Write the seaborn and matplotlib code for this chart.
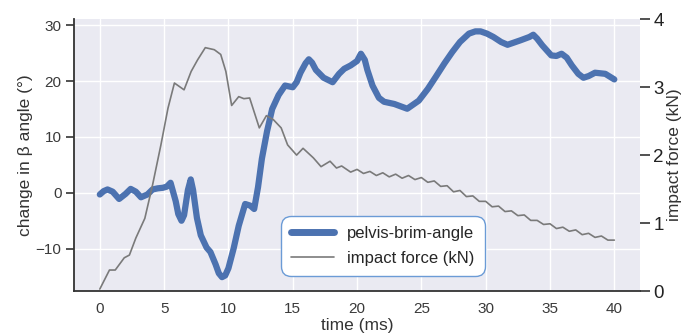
import matplotlib
matplotlib.use("Agg")
import matplotlib.pyplot as plt
import seaborn as sns
import pandas as pd

# pelvis-brim angle change (degrees) over time (ms)
angle_time = [0, 0.3, 0.6, 1.0, 1.5, 2.0, 2.4, 2.8, 3.2, 3.7, 4.1, 4.5, 4.9, 5.2, 5.5,
              5.9, 6.1, 6.35, 6.55, 6.85, 7.07, 7.25, 7.55, 7.85, 8.3, 8.6, 9.0,
              9.25, 9.5, 9.75, 10.0, 10.4, 10.8, 11.3, 11.7, 12.0, 12.3, 12.6, 13.0,
              13.4, 13.9, 14.4, 15.0, 15.3, 15.6, 16.0, 16.25, 16.5, 16.8, 17.4, 18.1,
              18.6, 19.0, 19.5, 20.0, 20.3, 20.6, 20.8, 21.2, 21.7, 22.1, 22.9, 23.9,
              24.8, 25.5, 26.1, 26.8, 27.4, 28.0, 28.7, 29.2, 29.6, 30.1, 30.6, 31.2,
              31.7, 32.7, 33.4, 33.7, 34.0, 34.4, 35.1, 35.5, 35.9, 36.3, 36.7, 37.2,
              37.6, 38.0, 38.5, 39.3, 40.0]
angle_deg = [-0.3, 0.3, 0.6, 0.2, -1.1, -0.2, 0.7, 0.2, -0.8, -0.3, 0.6, 0.8, 0.9,
             1.1, 1.8, -1.5, -3.8, -5.0, -4.0, 0.5, 2.4, 0.5, -4.5, -7.6, -9.8, -10.6,
             -12.8, -14.4, -15.1, -14.8, -13.5, -10.0, -5.9, -2.0, -2.3, -2.9, 1.0,
             6.1, 11.0, 15.0, 17.5, 19.2, 18.9, 19.8, 21.5, 23.2, 23.9, 23.3, 22.0,
             20.6, 19.8, 21.3, 22.2, 22.8, 23.6, 24.9, 23.8, 22.0, 19.2, 17.0, 16.3,
             15.9, 15.05, 16.5, 18.6, 20.7, 23.2, 25.2, 27.0, 28.5, 28.9, 28.9, 28.5,
             27.9, 27.0, 26.5, 27.3, 27.9, 28.3, 27.6, 26.4, 24.6, 24.5, 24.9, 24.2,
             22.8, 21.3, 20.6, 20.9, 21.5, 21.3, 20.3]

# impact force (kN) over time (ms)
force_time = [0, 0.75, 1.2, 1.9, 2.3, 2.8, 3.5, 4.1, 4.75, 5.3, 5.8, 6.55, 7.1, 7.6,
              8.2, 8.9, 9.4, 9.8, 10.25, 10.8, 11.2, 11.65, 12.4, 12.95, 13.5, 14.1,
              14.6, 15.3, 15.8, 16.6, 17.2, 17.9, 18.4, 18.8, 19.5, 20.0, 20.5, 21.0,
              21.5, 22.0, 22.5, 23.0, 23.5, 24.0, 24.5, 25.0, 25.5, 26.0, 26.5, 27.0,
              27.5, 28.0, 28.5, 29.0, 29.5, 30.0, 30.5, 31.0, 31.5, 32.0, 32.5, 33.0,
              33.5, 34.0, 34.5, 35.0, 35.5, 36.0, 36.5, 37.0, 37.5, 38.0, 38.5, 39.0,
              39.5, 40.0]
force_kn = [0.03, 0.31, 0.31, 0.49, 0.53, 0.78, 1.07, 1.56, 2.15, 2.69, 3.06, 2.96,
            3.23, 3.40, 3.58, 3.55, 3.48, 3.23, 2.73, 2.86, 2.83, 2.84, 2.40, 2.58,
            2.52, 2.40, 2.15, 2.00, 2.10, 1.96, 1.83, 1.91, 1.81, 1.84, 1.75, 1.79,
            1.73, 1.76, 1.70, 1.74, 1.68, 1.72, 1.66, 1.70, 1.64, 1.67, 1.60, 1.62,
            1.54, 1.55, 1.46, 1.48, 1.39, 1.40, 1.32, 1.32, 1.24, 1.25, 1.17, 1.18,
            1.11, 1.12, 1.04, 1.04, 0.98, 0.99, 0.92, 0.94, 0.88, 0.90, 0.83, 0.85,
            0.79, 0.81, 0.75, 0.75]

force_ticks = [0, 1, 2, 3, 4]

angle_df = pd.DataFrame({"time": angle_time, "angle": angle_deg})
force_df = pd.DataFrame({"time": force_time, "force": force_kn})

sns.set_theme(style="darkgrid")
plt.rcParams["font.family"] = ["Liberation Sans", "DejaVu Sans"]

fig = plt.figure(figsize=(6.86, 3.35), dpi=100)
ax = fig.add_axes([0.108, 0.131, 0.825, 0.812])

blue = "#4C72B0"
sns.lineplot(data=angle_df, x="time", y="angle", ax=ax, color=blue, lw=4.5,
             label="pelvis-brim-angle", legend=False, solid_capstyle="round",
             solid_joinstyle="round")
ax.set_xlim(-2, 42)
ax.set_ylim(-17.6, 31.1)
ax.set_yticks([-10, 0, 10, 20, 30])
ax.set_xticks([0, 5, 10, 15, 20, 25, 30, 35, 40])

ax2 = ax.twinx()
sns.lineplot(data=force_df, x="time", y="force", ax=ax2, color="#7a7a7a", lw=1.2,
             label="impact force (kN)", legend=False, solid_joinstyle="round")
ax2.set_ylim(0, 4)
ax2.set_yticks(force_ticks)
ax2.grid(False)

for sp in ["top", "right"]:
    ax.spines[sp].set_visible(False)
for sp in ["left", "bottom"]:
    ax.spines[sp].set_visible(True)
    ax.spines[sp].set_color("#333333")
    ax.spines[sp].set_linewidth(1.3)
for sp in ax2.spines.values():
    sp.set_visible(False)

ax.tick_params(axis="x", length=0, pad=8, labelsize=11, labelcolor="#3a3a3a")
ax.tick_params(axis="y", left=True, length=6, width=1.2, color="#333333", pad=3,
               labelsize=11, labelcolor="#3a3a3a")
ax2.tick_params(axis="y", right=True, length=7.5, width=1.2, color="#333333", pad=2,
                labelsize=13.5, labelcolor="#222222")

ax.set_xlabel("time (ms)", fontsize=12.5, color="#333333", labelpad=1)
ax.set_ylabel("change in β angle (°)", fontsize=12.5, color="#333333", labelpad=2)
ax2.set_ylabel("impact force (kN)", fontsize=12.5, color="#333333", labelpad=2)

h1, l1 = ax.get_legend_handles_labels()
h2, l2 = ax2.get_legend_handles_labels()
leg = ax2.legend(h1 + h2, l1 + l2, loc="lower center", bbox_to_anchor=(0.545, 0.025),
                 fontsize=12, frameon=True, fancybox=True, framealpha=1,
                 handlelength=2.6, borderpad=0.6, labelspacing=0.6)
leg.get_frame().set_edgecolor("#6b9bd6")
leg.get_frame().set_facecolor("white")
leg.get_frame().set_linewidth(1.0)
leg.get_frame().set_boxstyle("round", pad=0, rounding_size=0.6)
leg.get_lines()[0].set_linewidth(5.0)

fig.savefig("out.png", dpi=100)
